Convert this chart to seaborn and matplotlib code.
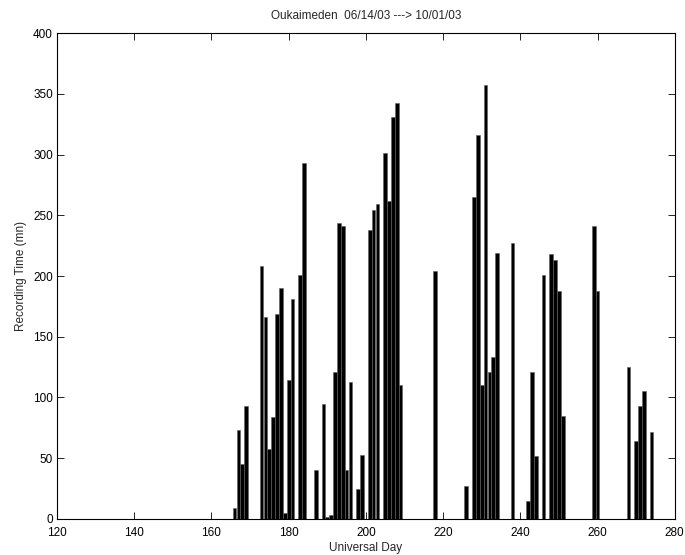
import matplotlib
matplotlib.use("Agg")
import matplotlib.pyplot as plt
import seaborn as sns
import pandas as pd

days = [166, 167, 168, 169, 173, 174, 175, 176, 177, 178, 179, 180, 181, 183, 184,
        187, 189, 190, 191, 192, 193, 194, 195, 196, 198, 199, 201, 202, 203,
        205, 206, 207, 208, 209, 218, 226, 228, 229, 230, 231, 232, 233, 234,
        238, 242, 243, 244, 246, 248, 249, 250, 251, 259, 260, 268, 270, 271,
        272, 274]
minutes = [9, 73, 45, 93, 208, 166, 58, 84, 169, 190, 5, 114, 181, 201, 293,
           40, 95, 2, 3, 121, 244, 241, 40, 113, 25, 53, 238, 254, 259,
           301, 262, 331, 342, 110, 204, 27, 265, 316, 110, 357, 121, 133, 219,
           227, 15, 121, 52, 201, 218, 213, 188, 85, 241, 188, 125, 64, 93,
           105, 72]

xticks = [120, 140, 160, 180, 200, 220, 240, 260, 280]
yticks = [0, 50, 100, 150, 200, 250, 300, 350, 400]
title = "Oukaimeden  06/14/03 ---> 10/01/03"
xlabel = "Universal Day"
ylabel = "Recording Time (mn)"

df = pd.DataFrame({"day": days, "minutes": minutes})

sns.set_style("white")
plt.rcParams["font.family"] = ["Liberation Sans", "DejaVu Sans"]

fig = plt.figure(figsize=(6.85, 5.55), dpi=100)
ax = fig.add_axes([0.0832, 0.0649, 0.9018, 0.8756])

sns.barplot(data=df, x="day", y="minutes", native_scale=True, width=0.97,
            color="black", edgecolor="#606060", linewidth=0.4,
            saturation=1, errorbar=None, ax=ax)

ax.set_xlim(120, 280)
ax.set_ylim(0, 400)
ax.set_xticks(xticks)
ax.set_yticks(yticks)
ax.set_xticklabels([str(t) for t in xticks])
ax.set_yticklabels([str(t) for t in yticks])
ax.tick_params(direction="in", length=5, width=0.6, labelsize=8.5,
               top=True, right=True, bottom=True, left=True, colors="black", pad=3)
ax.tick_params(axis="x", pad=6)
for s in ax.spines.values():
    s.set_visible(True)
    s.set_color("black")
    s.set_linewidth(0.8)

ax.set_title(title, fontsize=8.5, pad=10)
ax.set_xlabel(xlabel, fontsize=8.5, labelpad=2)
ax.set_ylabel(ylabel, fontsize=8.5, labelpad=4)

fig.savefig("out.png", dpi=100)
